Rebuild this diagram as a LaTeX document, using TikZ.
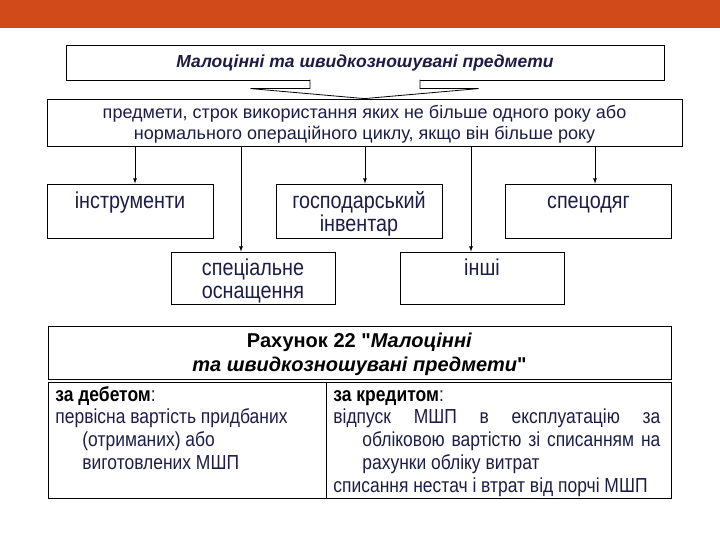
\documentclass[tikz,border=0pt]{standalone}
\usepackage{fontspec}
\setmainfont{Liberation Sans}[Ligatures=TeXOff, FakeStretch=0.86]
\newfontfamily\widesans{Liberation Sans}[Ligatures=TeXOff]
\usepackage{xcolor}
\usetikzlibrary{positioning, arrows}
\definecolor{slidebar}{RGB}{208,74,26}
\definecolor{ink}{RGB}{28,28,72}
\newcommand{\boxlines}[3]{\rule{0pt}{#1}#2\\#3\rule[-5pt]{0pt}{5pt}}

\begin{document}
\begin{tikzpicture}[x=1pt, y=1pt, line width=0.8pt, >=latex,
  box/.style={draw, rectangle, inner sep=0pt, align=center, text=ink, font=\widesans\fontsize{18}{21}\selectfont},
  kind/.style={box, minimum width=166pt, font=\fontsize{23}{23}\selectfont},
  cell/.style={draw, rectangle, inner sep=0pt, minimum height=116pt, anchor=north west},
  celltext/.style={inner sep=0pt, anchor=north west, text=ink, align=justify, font=\fontsize{20.3}{22.7}\selectfont}]
  \useasboundingbox (0,0) rectangle (720,540);
  \fill[slidebar] (0,512) rectangle (720,540);

  \node[box, minimum width=598pt, minimum height=35pt, font=\widesans\fontsize{17.5}{20}\bfseries\itshape\selectfont] (title) at (365,477.5) {Малоцінні та швидкозношувані предмети};
  \node[box, minimum width=635pt, minimum height=47pt] (desc) at (364.5,417.5) {\boxlines{19pt}{предмети, строк використання яких не більше одного року або}{нормального операційного циклу, якщо він більше року}};
  \draw[fill=white] ([xshift=-55pt,yshift=0.8pt]title.south) |- ([xshift=-114pt,yshift=10pt]desc.north) -- (desc.north) -- ([xshift=114pt,yshift=10pt]desc.north) -| ([xshift=55pt,yshift=0.8pt]title.south);

  \node[kind, minimum height=54pt] (tools) at (130,329) {\boxlines{23pt}{інструменти}{}};
  \node[kind, minimum height=54pt] (stock) at (359,329) {\boxlines{23pt}{господарський}{інвентар}};
  \node[kind, minimum height=54pt] (wear) at (588.5,329) {\boxlines{23pt}{спецодяг}{}};
  \node[kind, minimum width=164pt, minimum height=52pt] (rigs) at (253,262) {\boxlines{23pt}{спеціальне}{оснащення}};
  \node[kind, minimum width=164pt, minimum height=52pt] (other) at (482,262) {\boxlines{23pt}{інші}{}};

  \begin{scope}[->]
    \draw ([xshift=5pt]tools.north |- desc.south) -- ([xshift=5pt]tools.north);
    \draw ([xshift=-12pt]rigs.north |- desc.south) -- ([xshift=-12pt]rigs.north);
    \draw ([xshift=6pt]stock.north |- desc.south) -- ([xshift=6pt]stock.north);
    \draw ([xshift=-11pt]other.north |- desc.south) -- ([xshift=-11pt]other.north);
    \draw ([xshift=6.5pt]wear.north |- desc.south) -- ([xshift=6.5pt]wear.north);
  \end{scope}

  \node[box, text=black, minimum width=623pt, minimum height=53pt, font=\widesans\fontsize{20}{24}\bfseries\selectfont] (account) at (359.5,187.5) {\boxlines{20pt}{Рахунок 22 "\textit{Малоцінні}}{\textit{та швидкозношувані предмети}"}};
  \node[cell, minimum width=278pt] (debit) at (48,158) {};
  \node[cell, minimum width=345pt] (credit) at (326,158) {};

  \node[celltext, text width=264pt] (debitnote) at ([xshift=7pt,yshift=-3pt]debit.north west) {\strut{\color{black}\bfseries за дебетом}:\par
    \hangindent=27pt\hangafter=1 первісна вартість придбаних\hfil\break (отриманих) або\hfil\break виготовлених МШП\par};
  \node[celltext, text width=327pt] (creditnote) at ([xshift=7pt,yshift=-3pt]credit.north west) {\strut{\color{black}\bfseries за кредитом}:\par
    \hangindent=29pt\hangafter=1 відпуск МШП в експлуатацію за\linebreak обліковою вартістю зі списанням на\linebreak рахунки обліку витрат\par
    списання нестач і втрат від порчі МШП\par};
\end{tikzpicture}
\end{document}
